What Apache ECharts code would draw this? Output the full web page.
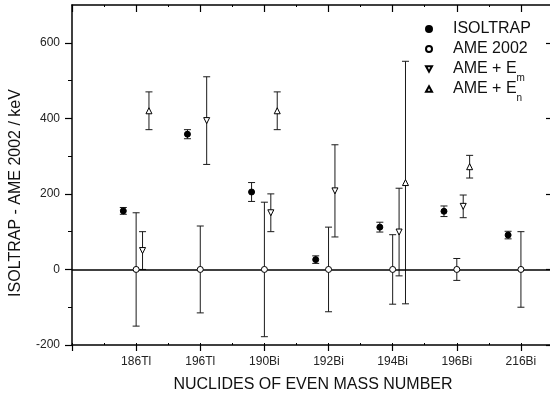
<!DOCTYPE html>
<html>
<head>
<meta charset="utf-8">
<script src="https://cdn.jsdelivr.net/npm/echarts@6/dist/echarts.min.js"></script>
<style>html,body{margin:0;padding:0;background:#fff}#c{width:550px;height:403px}</style>
</head>
<body>
<div id="c"></div>
<script>
const categories = ['186Tl', '196Tl', '190Bi', '192Bi', '194Bi', '196Bi', '216Bi'];
const isoltrap    = [155, 358, 205, 26, 112, 154, 91];
const isoltrapErr = [9, 12, 25, 10, 13, 14, 10];
const ame2002     = [0, 0, 0, 0, 0, 0, 0];
const ame2002Err  = [150, 115, 178, 112, 92, 29, 100];
const ameEm       = [50, 394, 150, 208, 99, 167, null];
const ameEmErr    = [50, 116, 50, 122, 116, 30, null];
const ameEn       = [420, null, 420, null, 230, 272, null];
const ameEnErr    = [50, null, 50, null, 321, 30, null];
const yTicks = [-200, 0, 200, 400, 600];
const yMinorTicks = [-100, 100, 300, 500];

// horizontal offsets of each data group relative to the category position
const OFF_ISO = -0.2, OFF_AME = 0, OFF_EM = 0.1, OFF_EN = 0.2;
const FONT = 'Liberation Sans, Arial, Helvetica, sans-serif';

function pts(vals, off) {
  const out = [];
  vals.forEach((v, i) => { if (v !== null) out.push([i + 1 + off, v]); });
  return out;
}
function errs(vals, e, off) {
  const out = [];
  vals.forEach((v, i) => { if (v !== null) out.push([i + 1 + off, v - e[i], v + e[i]]); });
  return out;
}
function errSeries(data, withZero) {
  const s = {
    type: 'custom',
    name: 'err',
    z: 2,
    data: data,
    renderItem: function (params, api) {
      const x = api.value(0);
      const lo = api.coord([x, api.value(1)]);
      const hi = api.coord([x, api.value(2)]);
      const hw = 3.5;
      const st = { stroke: '#1a1a1a', lineWidth: 1 };
      return {
        type: 'group',
        children: [
          { type: 'line', shape: { x1: lo[0], y1: lo[1], x2: hi[0], y2: hi[1] }, style: st },
          { type: 'line', shape: { x1: lo[0] - hw, y1: lo[1], x2: lo[0] + hw, y2: lo[1] }, style: st },
          { type: 'line', shape: { x1: hi[0] - hw, y1: hi[1], x2: hi[0] + hw, y2: hi[1] }, style: st }
        ]
      };
    }
  };
  if (withZero) {
    s.markLine = {
      silent: true, symbol: ['none', 'none'], label: { show: false },
      lineStyle: { color: '#000', width: 1.5, type: 'solid' },
      data: [{ yAxis: 0 }]
    };
  }
  return s;
}

const xCommon = { type: 'value', min: 0, max: 7.5, splitLine: { show: false } };
const yCommon = { type: 'value', min: -200, max: 700, splitLine: { show: false } };

const chart = echarts.init(document.getElementById('c'), null, { renderer: 'canvas' });
chart.setOption({
  animation: false,
  backgroundColor: '#fff',
  grid: { left: 72, width: 481, top: 5, bottom: 58, containLabel: false, outerBoundsMode: 'none' },
  xAxis: [
    Object.assign({}, xCommon, {
      position: 'bottom', interval: 1,
      axisLine: { show: true, onZero: false, lineStyle: { color: '#000', width: 1.5 } },
      axisTick: { show: true, length: 6, lineStyle: { color: '#000', width: 1.2 } },
      axisLabel: {
        show: true, margin: 11, color: '#222', fontSize: 12, fontFamily: FONT,
        formatter: function (v) { return (Number.isInteger(v) && v >= 1 && v <= categories.length) ? categories[v - 1] : ''; }
      }
    }),
    Object.assign({}, xCommon, {
      position: 'bottom', interval: 0.5,
      axisLine: { show: false, onZero: false },
      axisTick: { show: true, inside: true, length: 2, lineStyle: { color: '#000', width: 1 } },
      axisLabel: { show: false }
    }),
    Object.assign({}, xCommon, {
      position: 'top', interval: 1,
      axisLine: { show: true, onZero: false, lineStyle: { color: '#000', width: 1.5 } },
      axisTick: { show: true, inside: true, length: 7, lineStyle: { color: '#000', width: 1.2 } },
      axisLabel: { show: false }
    }),
    Object.assign({}, xCommon, {
      position: 'top', interval: 0.5,
      axisLine: { show: false, onZero: false },
      axisTick: { show: true, inside: true, length: 2, lineStyle: { color: '#000', width: 1 } },
      axisLabel: { show: false }
    })
  ],
  yAxis: [
    Object.assign({}, yCommon, {
      position: 'left', interval: 200,
      axisLine: { show: true, onZero: false, lineStyle: { color: '#000', width: 1.5 } },
      axisTick: { show: true, length: 7, customValues: yTicks, lineStyle: { color: '#000', width: 1.2 } },
      axisLabel: { show: true, margin: 12, customValues: yTicks, color: '#222', fontSize: 12, fontFamily: FONT }
    }),
    Object.assign({}, yCommon, {
      position: 'left', interval: 100,
      axisLine: { show: false, onZero: false },
      axisTick: { show: true, length: 4, customValues: yMinorTicks, lineStyle: { color: '#000', width: 1 } },
      axisLabel: { show: false }
    }),
    Object.assign({}, yCommon, {
      position: 'right', interval: 200,
      axisLine: { show: true, onZero: false, lineStyle: { color: '#000', width: 1.5 } },
      axisTick: { show: true, inside: true, length: 7, customValues: yTicks, lineStyle: { color: '#000', width: 1.2 } },
      axisLabel: { show: false }
    })
  ],
  legend: {
    orient: 'vertical', left: 420, top: 10, itemGap: -8,
    itemWidth: 6, itemHeight: 6, selectedMode: false,
    data: ['ISOLTRAP', 'AME 2002', 'AME + Em', 'AME + En'],
    formatter: function (name) {
      if (name === 'AME + Em') return '{t|AME + E}{s|m}';
      if (name === 'AME + En') return '{t|AME + E}{s|n}';
      return '{t|' + name + '}{s| }';
    },
    textStyle: {
      padding: [0, 0, 0, 16],
      lineHeight: 16,
      rich: {
        t: { fontSize: 16, lineHeight: 16, color: '#111', fontFamily: FONT },
        s: { fontSize: 10, lineHeight: 16, padding: [18, 0, 0, 0], verticalAlign: 'middle', color: '#111', fontFamily: FONT }
      }
    }
  },
  graphic: [
    { type: 'text', x: 16, y: 193, rotation: Math.PI / 2,
      style: { text: 'ISOLTRAP - AME 2002 / keV', font: '16px ' + FONT, fill: '#111', textAlign: 'center', textVerticalAlign: 'middle' } },
    { type: 'text', x: 313, y: 385,
      style: { text: 'NUCLIDES OF EVEN MASS NUMBER', font: '16px ' + FONT, fill: '#111', textAlign: 'center', textVerticalAlign: 'middle' } }
  ],
  series: [
    errSeries(errs(ame2002, ame2002Err, OFF_AME), true),
    errSeries(errs(isoltrap, isoltrapErr, OFF_ISO), false),
    errSeries(errs(ameEm, ameEmErr, OFF_EM), false),
    errSeries(errs(ameEn, ameEnErr, OFF_EN), false),
    { type: 'scatter', name: 'ISOLTRAP', z: 5, symbol: 'circle', symbolSize: 6,
      itemStyle: { color: '#000', borderColor: '#000', borderWidth: 1, opacity: 1 },
      data: pts(isoltrap, OFF_ISO) },
    { type: 'scatter', name: 'AME 2002', z: 5, symbol: 'circle', symbolSize: 6,
      itemStyle: { color: '#fff', borderColor: '#000', borderWidth: 1, opacity: 1 },
      data: pts(ame2002, OFF_AME) },
    { type: 'scatter', name: 'AME + Em', z: 5, symbol: 'path://M0,0L10,0L5,9Z', symbolSize: 6,
      itemStyle: { color: '#fff', borderColor: '#000', borderWidth: 1, opacity: 1 },
      data: pts(ameEm, OFF_EM) },
    { type: 'scatter', name: 'AME + En', z: 5, symbol: 'path://M5,0L10,9L0,9Z', symbolSize: 6,
      itemStyle: { color: '#fff', borderColor: '#000', borderWidth: 1, opacity: 1 },
      data: pts(ameEn, OFF_EN) }
  ]
});
</script>
</body>
</html>
